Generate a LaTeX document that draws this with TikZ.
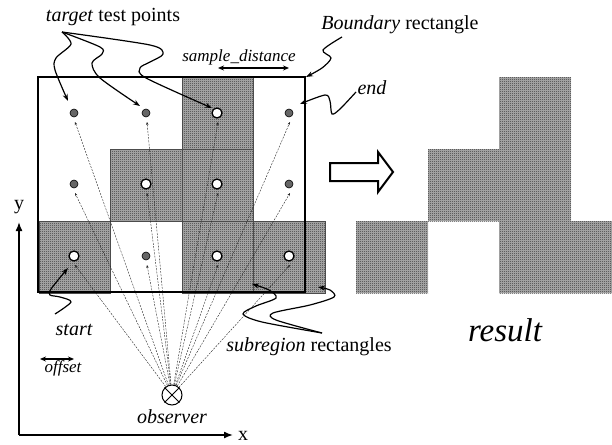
\documentclass[tikz,border=0pt]{standalone}
\usepackage{fontspec}
\setmainfont{Liberation Serif}
\usetikzlibrary{arrows.meta,patterns.meta}

\tikzdeclarepattern{
  name=chk,
  type=uncolored,
  bounding box={(0pt,0pt) and (2pt,2pt)},
  tile size={(2pt,2pt)},
  code={\fill (0pt,0pt) rectangle (1pt,1pt); \fill (1pt,1pt) rectangle (2pt,2pt);}
}

\begin{document}
\begin{tikzpicture}[x=1pt,y=-1pt,
  lbl/.style={font=\fontsize{20}{22}\selectfont, inner sep=0pt},
  slbl/.style={font=\fontsize{17}{19}\selectfont\itshape, inner sep=0pt},
  cell/.style={preaction={fill=black!28}, pattern=chk, draw=black!70, line width=0.6pt},
  res/.style={preaction={fill=black!28}, pattern=chk},
  ann/.style={line width=1.2pt, -{Stealth[length=7pt,width=5pt]}},
  ray/.style={line width=0.4pt, black!85, dash pattern=on 2pt off 1.2pt, -{Stealth[length=3pt,width=2.5pt]}},
  hpt/.style={circle, draw=black, line width=0.6pt, fill=black!60, minimum size=8pt, inner sep=0pt},
  opt/.style={circle, draw=black, line width=1.3pt, fill=white, minimum size=10pt, inner sep=0pt},
  axis/.style={line width=1.5pt, -{Latex[length=9pt,width=7pt]}},
  dbl/.style={line width=1.2pt, {Stealth[length=6pt,width=5pt]}-{Stealth[length=6pt,width=5pt]}}
]
\useasboundingbox (0,0) rectangle (612,444);

% subregion cells
\path[cell] (182,77) rectangle (253,149);
\path[cell] (110,149) rectangle (182,221);
\path[cell] (182,149) rectangle (253,221);
\path[cell] (39,221) rectangle (110,293);
\path[cell] (182,221) rectangle (253,293);
\path[cell] (253,221) rectangle (325,293);

% result cells
\path[res] (499,77) rectangle (571,149);
\path[res] (428,149) rectangle (571,221);
\path[res] (356,221) rectangle (428,293);
\path[res] (499,221) rectangle (612,293);

% observer
\node[circle, draw, line width=1pt, minimum size=20pt, inner sep=0pt] (obs) at (172,395) {};
\draw[line width=1pt] (obs.north west) -- (obs.south east) (obs.north east) -- (obs.south west);
\node[lbl, font=\fontsize{20}{22}\selectfont\itshape] (obsl) at (172,417) {observer};

% ray tips
\coordinate (r11) at (75,122);  \coordinate (r21) at (147,122);
\coordinate (r31) at (218,122); \coordinate (r41) at (290,122);
\coordinate (r12) at (75,193);  \coordinate (r22) at (147,193);
\coordinate (r32) at (218,193); \coordinate (r42) at (290,193);
\coordinate (r13) at (75,265);  \coordinate (r23) at (147,265);
\coordinate (r33) at (218,265); \coordinate (r43) at (290,265);
\foreach \r in {r11,r21,r31,r41,r12,r22,r32,r42,r13,r23,r33,r43}
  \draw[ray] (obs) -- (\r);

% boundary rectangle
\draw[line width=2pt] (38,77) rectangle (305,292);

% points
\node[hpt] (p11) at (74,113) {};
\node[hpt] (p21) at (146,113) {};
\node[opt] (p31) at (217,113) {};
\node[hpt] (p41) at (289,113) {};
\node[hpt] (p12) at (74,184) {};
\node[opt] (p22) at (146,184) {};
\node[opt] (p32) at (217,184) {};
\node[hpt] (p42) at (289,184) {};
\node[opt] (p13) at (74,256) {};
\node[hpt] (p23) at (146,256) {};
\node[opt] (p33) at (217,256) {};
\node[opt] (p43) at (289,256) {};

% labels
\node[lbl] (tgl) at (113,17) {\textit{target} test points};
\node[lbl] (bdl) at (400,25) {\textit{Boundary} rectangle};
\node[lbl, font=\fontsize{20}{22}\selectfont\itshape] (endl) at (372,88) {end};
\node[lbl, font=\fontsize{20}{22}\selectfont\itshape] (stl) at (74,330) {start};
\node[lbl] (sbl) at (309,347) {\textit{subregion} rectangles};
\node[slbl] (sdl) at (239,57) {sample\_distance};
\node[slbl] (ofl) at (63,368) {offset};
\node[lbl, font=\fontsize{33}{36}\selectfont\itshape] (resl) at (505,330) {result};

% annotation curves
\draw[ann] plot[smooth] coordinates {(62,32) (71,44) (56,58) (55,70) (68,101)};
\draw[ann] plot[smooth] coordinates {(62,32) (100,47) (102,54) (92,63) (100,78) (140,106)};
\draw[ann] plot[smooth] coordinates {(62,32) (150,45) (163,54) (150,62) (140,68) (146,78) (212,108)};
\draw[ann] plot[smooth] coordinates {(342,37) (323,50) (331,58) (322,68) (306,77)};
\draw[ann] plot[smooth] coordinates {(356,92) (340,109) (332,114) (330,101) (325,95) (300,104)};
\draw[ann] plot[smooth] coordinates {(55,314) (71,302) (60,297) (50,295) (51,289) (68,268)};
\draw[ann] plot[smooth] coordinates {(322,333) (262,322) (243,314) (256,306) (276,298) (269,290) (252,284)};
\draw[ann] plot[smooth] coordinates {(322,333) (276,320) (273,313) (310,305) (334,297) (330,290) (318,287)};

% dimension arrows
\coordinate (sd1) at (218,68); \coordinate (sd2) at (289,68);
\draw[dbl] (sd1) -- (sd2);
\coordinate (of1) at (40,359); \coordinate (of2) at (74,359);
\draw[dbl] (of1) -- (of2);

% axes
\coordinate (org) at (19,435);
\coordinate (ytip) at (19,222);
\coordinate (xtip) at (233,435);
\draw[axis] (org) -- (ytip);
\draw[axis] (org) -- (xtip);
\node[lbl] (yl) at (19,207) {y};
\node[lbl] (xl) at (243,436) {x};

% hollow arrow
\draw[line width=2pt, line join=miter] (330,163) -- (378,163) -- (378,152) -- (393,172) -- (378,192) -- (378,181) -- (330,181) -- cycle;
\end{tikzpicture}
\end{document}
